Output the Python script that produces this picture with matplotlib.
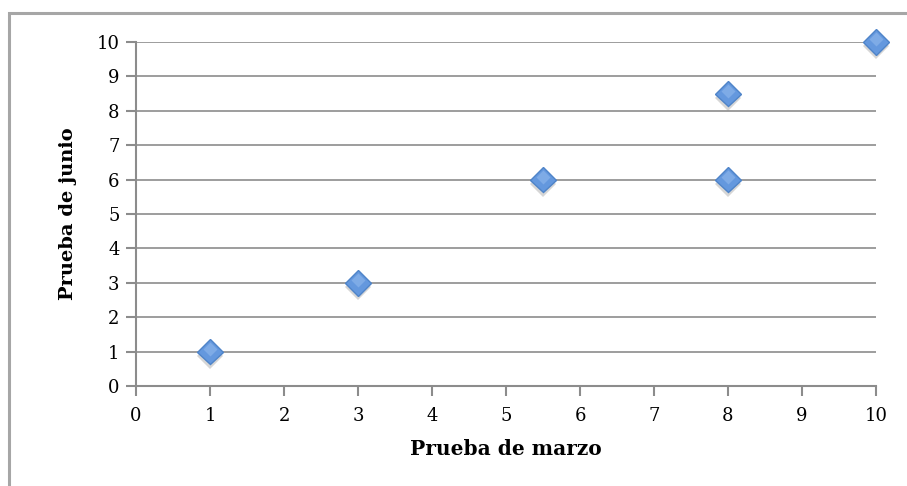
import matplotlib.pyplot as plt
import matplotlib.patheffects as pe
from matplotlib.patches import Rectangle

# puntajes de cada alumno en las dos pruebas
marzo = [1, 3, 5.5, 8, 8, 10]
junio = [1, 3, 6, 6, 8.5, 10]
ticks = list(range(0, 11))

plt.rcParams["font.family"] = ["DejaVu Serif"]

fig = plt.figure(figsize=(9.07, 4.86), dpi=100)
ax = fig.add_axes([0.15, 0.2058, 0.8158, 0.7078])

# marco exterior del grafico
fig.patches.append(Rectangle((9 / 907, -0.1), 1.2, 1 - 13 / 486 + 0.1,
                             transform=fig.transFigure, fill=False,
                             edgecolor="#a6a6a6", linewidth=2.2))

grid_c = "#8c8c8c"
for y in ticks[1:]:
    ax.axhline(y, color=grid_c, linewidth=1.2, zorder=1)

shadow = [pe.SimplePatchShadow(offset=(0, -3), shadow_rgbFace="#8a8a8a", alpha=0.35),
          pe.Normal()]
ax.plot(marzo, junio, linestyle="none", marker="D", markersize=13,
        markerfacecolor="#6498de", markeredgecolor="#4f84c8", markeredgewidth=1.0,
        path_effects=shadow, zorder=3, clip_on=False)
# brillo superior del rombo
ax.plot(marzo, [v + 0.08 for v in junio], linestyle="none", marker="D", markersize=7,
        markerfacecolor="#94bbee", markeredgecolor="none", alpha=0.55, zorder=4,
        clip_on=False)

ax.set_xlim(0, 10)
ax.set_ylim(0, 10)
ax.set_xticks(ticks)
ax.set_yticks(ticks)
ax.tick_params(axis="both", direction="out", length=7, width=1.5, color=grid_c,
               labelsize=13, pad=5)
ax.tick_params(axis="x", pad=8)

for side in ["top", "right"]:
    ax.spines[side].set_visible(False)
for side in ["left", "bottom"]:
    ax.spines[side].set_color(grid_c)
    ax.spines[side].set_linewidth(1.5)

ax.set_xlabel("Prueba de marzo", fontsize=14.5, fontweight="bold", labelpad=10)
ax.set_ylabel("Prueba de junio", fontsize=14, fontweight="bold", labelpad=14)

fig.savefig("out.png", dpi=100)
